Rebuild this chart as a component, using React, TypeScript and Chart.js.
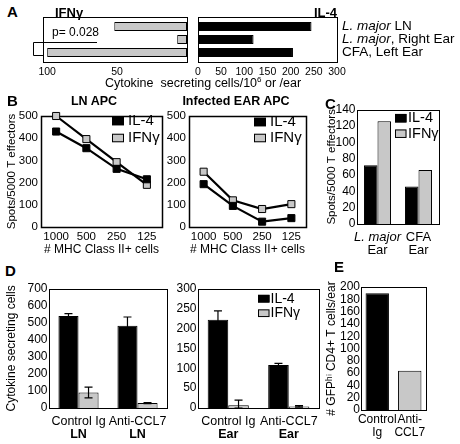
import React, { useEffect, useRef } from "react";
import { Chart, registerables } from "chart.js";

Chart.register(...registerables);

const FONT = "'Liberation Sans', Arial, Helvetica, sans-serif";
Chart.defaults.font.family = FONT;
Chart.defaults.color = "#000";

const BLACK = "#000000";
const GREY = "#c8c8c8";

// ---------- Panel A ----------
const aCategories = ["L. major LN", "L. major, Right Ear", "CFA, Left Ear"];
const aIFNg = [52, 7, 100];
const aIL4 = [245, 120, 205];
const aLeftTicks = [50, 100];
const aPValue = "p= 0.028";

// ---------- Panel B ----------
const bDoses = ["1000", "500", "250", "125"];
const bLnIL4 = [430, 355, 262, 215];
const bLnIFNg = [500, 396, 292, 190];
const bEarIL4 = [193, 95, 24, 40];
const bEarIFNg = [249, 120, 81, 103];

// ---------- Panel C ----------
const cCategories = [["L. major", "Ear"], ["CFA", "Ear"]];
const cIL4 = [72, 46];
const cIFNg = [126, 66];

// ---------- Panel D ----------
const dLnCategories = [["Control Ig", "LN"], ["Anti-CCL7", "LN"]];
const dLnIL4 = [540, 482];
const dLnIL4Err = [14, 52];
const dLnIFNg = [91, 29];
const dLnIFNgErr = [32, 3];
const dEarCategories = [["Control Ig", "Ear"], ["Anti-CCL7", "Ear"]];
const dEarIL4 = [222, 108];
const dEarIL4Err = [22, 4];
const dEarIFNg = [7, 4];
const dEarIFNgErr = [13, 2];

// ---------- Panel E ----------
const eCategories = [["Control", "Ig"], ["Anti-", "CCL7"]];
const eValues = [190, 64];

// ---------- helpers ----------
type Seg = { text: string; italic?: boolean; bold?: boolean };

function segments(text: string, bold: boolean): Seg[] {
  const key = "L. major";
  if (text.startsWith(key)) return [{ text: key, italic: true, bold }, { text: text.slice(key.length), bold }];
  return [{ text, bold }];
}
function fontOf(s: Seg, size: number) {
  return `${s.italic ? "italic " : ""}${s.bold ? "bold " : ""}${size}px ${FONT}`;
}
function drawSegs(ctx: any, segs: Seg[], x: number, y: number, size: number, align: "left" | "center") {
  let w = 0;
  segs.forEach((s) => { ctx.font = fontOf(s, size); w += ctx.measureText(s.text).width; });
  let cx = align === "center" ? x - w / 2 : x;
  ctx.textAlign = "left";
  ctx.textBaseline = "middle";
  ctx.fillStyle = BLACK;
  segs.forEach((s) => { ctx.font = fontOf(s, size); ctx.fillText(s.text, cx, y); cx += ctx.measureText(s.text).width; });
}

const framePlugin = (dy: number, lw: number) => ({
  id: "frame",
  beforeDatasetsDraw(chart: any) {
    const { ctx, chartArea: a } = chart;
    ctx.save();
    ctx.strokeStyle = BLACK;
    ctx.lineWidth = lw;
    ctx.strokeRect(Math.round(a.left) + 0.5, Math.round(a.top - dy) + 0.5, Math.round(a.right - a.left), Math.round(a.bottom - a.top + 2 * dy));
    ctx.restore();
  },
});

const legendPlugin = (o: { dx: number; dy: number; rowH: number; boxW: number; boxH: number; gap: number; size: number }) => ({
  id: "inlegend",
  afterDraw(chart: any) {
    const { ctx, chartArea: a } = chart;
    ctx.save();
    chart.data.datasets.forEach((ds: any, i: number) => {
      const x = a.left + o.dx;
      const y = a.top + o.dy + i * o.rowH;
      ctx.fillStyle = ds.pointBackgroundColor ?? ds.backgroundColor;
      ctx.fillRect(x, y - o.boxH / 2, o.boxW, o.boxH);
      ctx.strokeStyle = BLACK;
      ctx.lineWidth = 1;
      ctx.strokeRect(x + 0.5, y - o.boxH / 2 + 0.5, o.boxW - 1, o.boxH - 1);
      ctx.fillStyle = BLACK;
      ctx.font = `${o.size}px ${FONT}`;
      ctx.textAlign = "left";
      ctx.textBaseline = "middle";
      ctx.fillText(ds.label, x + o.boxW + o.gap, y);
    });
    ctx.restore();
  },
});

const errorPlugin = {
  id: "errbars",
  afterDatasetsDraw(chart: any) {
    const { ctx } = chart;
    const ys = chart.scales.y;
    ctx.save();
    ctx.strokeStyle = BLACK;
    ctx.lineWidth = 1.2;
    chart.data.datasets.forEach((ds: any, di: number) => {
      const errs = ds.errors as number[] | undefined;
      if (!errs) return;
      chart.getDatasetMeta(di).data.forEach((bar: any, i: number) => {
        const v = ds.data[i];
        const e = errs[i];
        const yt = ys.getPixelForValue(v + e);
        const yb = ys.getPixelForValue(Math.max(0, v - e));
        const x = bar.x;
        ctx.beginPath();
        ctx.moveTo(x, yt); ctx.lineTo(x, yb);
        ctx.moveTo(x - 4, yt); ctx.lineTo(x + 4, yt);
        ctx.moveTo(x - 4, yb); ctx.lineTo(x + 4, yb);
        ctx.stroke();
      });
    });
    ctx.restore();
  },
};

const richXLabels = (offsets: number[], size: number, boldLines: number[]) => ({
  id: "richX",
  afterDraw(chart: any) {
    const { ctx, chartArea } = chart;
    const xs = chart.scales.x;
    ctx.save();
    (chart.data.labels as string[][]).forEach((lines, i) => {
      const cx = xs.getPixelForValue(i);
      lines.forEach((line, k) => drawSegs(ctx, segments(line, boldLines.includes(k)), cx, chartArea.bottom + offsets[k], size, "center"));
    });
    ctx.restore();
  },
});

const richYLabels = (dx: number, size: number) => ({
  id: "richY",
  afterDraw(chart: any) {
    const { ctx, chartArea } = chart;
    const ys = chart.scales.y;
    ctx.save();
    (chart.data.labels as string[]).forEach((t, i) => {
      drawSegs(ctx, segments(t, false), chartArea.right + dx, ys.getPixelForValue(i), size, "left");
    });
    ctx.restore();
  },
});

const bracketPlugin = {
  id: "pbracket",
  afterDraw(chart: any) {
    const { ctx, chartArea: a } = chart;
    const ys = chart.scales.y;
    const y1 = ys.getPixelForValue(1) + 2;
    const y2 = ys.getPixelForValue(2) + 2;
    ctx.save();
    ctx.strokeStyle = BLACK;
    ctx.lineWidth = 1;
    ctx.beginPath();
    ctx.moveTo(a.left + 54, Math.round(y1) + 0.5);
    ctx.lineTo(a.left - 10 + 0.5, Math.round(y1) + 0.5);
    ctx.lineTo(a.left - 10 + 0.5, Math.round(y2) + 0.5);
    ctx.lineTo(a.left, Math.round(y2) + 0.5);
    ctx.stroke();
    ctx.fillStyle = BLACK;
    ctx.font = `12px ${FONT}`;
    ctx.textAlign = "left";
    ctx.textBaseline = "middle";
    ctx.fillText(aPValue, a.left + 9, ys.getPixelForValue(1) - 6.5);
    ctx.restore();
  },
};

const noGrid = { grid: { display: false, drawTicks: false, tickLength: 0 }, border: { display: false } };
const flat = { autoSkip: false, maxRotation: 0, minRotation: 0 };
const basePlugins = { legend: { display: false }, tooltip: { enabled: false } };

const lineDs = (label: string, data: number[], fill: string) => ({
  label, data, borderColor: BLACK, borderWidth: 2.2, pointStyle: "rect", pointRadius: 5,
  pointBackgroundColor: fill, pointBorderColor: BLACK, pointBorderWidth: 1, clip: false,
});

// ---------- configs ----------
const aLeftConfig = (): any => ({
  type: "bar",
  data: { labels: aCategories, datasets: [{ label: "IFNγ", data: aIFNg, backgroundColor: GREY, borderColor: BLACK, borderWidth: 1, borderSkipped: false, barPercentage: 0.69, categoryPercentage: 1 }] },
  options: {
    indexAxis: "y", responsive: false, animation: false,
    layout: { padding: { left: 17, right: 3, top: 10, bottom: 0 } },
    plugins: basePlugins,
    scales: {
      x: { type: "linear", reverse: true, min: 0, max: 103, ...noGrid,
        afterBuildTicks: (s: any) => { s.ticks = aLeftTicks.map((v) => ({ value: v })); },
        ticks: { ...flat, font: { size: 10.5 }, padding: 7 }, afterFit: (s: any) => { s.height = 23; } },
      y: { display: false },
    },
  },
  plugins: [framePlugin(3, 1), bracketPlugin],
});

const aRightConfig = (): any => ({
  type: "bar",
  data: { labels: aCategories, datasets: [{ label: "IL-4", data: aIL4, backgroundColor: BLACK, borderColor: BLACK, borderWidth: 1, barPercentage: 0.69, categoryPercentage: 1 }] },
  options: {
    indexAxis: "y", responsive: false, animation: false,
    layout: { padding: { left: 4, right: 123, top: 10, bottom: 0 } },
    plugins: basePlugins,
    scales: {
      x: { type: "linear", min: 0, max: 300, ...noGrid, ticks: { ...flat, stepSize: 50, font: { size: 10.5 }, padding: 7 }, afterFit: (s: any) => { s.height = 23; } },
      y: { display: false },
    },
  },
  plugins: [framePlugin(3, 1), richYLabels(5, 13.5)],
});

const bConfig = (il4: number[], ifng: number[], yWidth: number, rightPad: number, showYTitle: boolean, leg: any): any => ({
  type: "line",
  data: { labels: bDoses, datasets: [lineDs("IL-4", il4, BLACK), lineDs("IFNγ", ifng, GREY)] },
  options: {
    responsive: false, animation: false,
    layout: { padding: { left: 0, right: rightPad, top: 10, bottom: 0 } },
    plugins: basePlugins,
    scales: {
      x: { offset: true, ...noGrid, ticks: { ...flat, font: { size: 11.5 }, padding: 3 },
        title: { display: true, text: "# MHC Class II+ cells", font: { size: 12 }, padding: { top: 0, bottom: 1 } },
        afterFit: (s: any) => { s.height = 31; } },
      y: { min: 0, max: 500, ...noGrid,
        ticks: { ...flat, stepSize: 100, font: { size: 11.5 }, padding: 3 },
        title: { display: showYTitle, text: "Spots/5000 T effectors", font: { size: 11.5 }, padding: { top: 5, bottom: 0 } },
        afterFit: (s: any) => { s.width = yWidth; } },
    },
  },
  plugins: [framePlugin(0, 1.5), legendPlugin(leg)],
});

const cConfig = (): any => ({
  type: "bar",
  data: {
    labels: cCategories,
    datasets: [
      { label: "IL-4", data: cIL4, backgroundColor: BLACK, borderColor: BLACK, borderWidth: 1, barPercentage: 1, categoryPercentage: 0.66 },
      { label: "IFNγ", data: cIFNg, backgroundColor: GREY, borderColor: BLACK, borderWidth: 1, barPercentage: 1, categoryPercentage: 0.66 },
    ],
  },
  options: {
    responsive: false, animation: false,
    layout: { padding: { left: 0, right: 21, top: 8, bottom: 0 } },
    plugins: basePlugins,
    scales: {
      x: { ...noGrid, ticks: { display: false }, afterFit: (s: any) => { s.height = 32; } },
      y: { min: 0, max: 140, ...noGrid, ticks: { ...flat, stepSize: 20, font: { size: 12 }, padding: 1.5 },
        title: { display: true, text: "Spots/5000 T effectors", font: { size: 11.5 }, padding: { top: 2.8, bottom: 0 } },
        afterFit: (s: any) => { s.width = 35; } },
    },
  },
  plugins: [framePlugin(0, 1), legendPlugin({ dx: 38, dy: 8.5, rowH: 15.5, boxW: 11.5, boxH: 8.5, gap: 1.5, size: 14.5 }), richXLabels([13.7, 26], 13, [])],
});

const dConfig = (labels: string[][], il4: number[], il4Err: number[], ifng: number[], ifngErr: number[], max: number, step: number, yWidth: number, yTitle: boolean, leg: any): any => ({
  type: "bar",
  data: {
    labels,
    datasets: [
      { label: "IL-4", data: il4, errors: il4Err, backgroundColor: BLACK, borderColor: BLACK, borderWidth: 1, barPercentage: 1, categoryPercentage: 0.68 },
      { label: "IFNγ", data: ifng, errors: ifngErr, backgroundColor: GREY, borderColor: BLACK, borderWidth: 1, barPercentage: 1, categoryPercentage: 0.68 },
    ],
  },
  options: {
    responsive: false, animation: false,
    layout: { padding: { left: 0, right: 5, top: 8, bottom: 0 } },
    plugins: basePlugins,
    scales: {
      x: { ...noGrid, ticks: { display: false }, afterFit: (s: any) => { s.height = 36; } },
      y: { min: 0, max, ...noGrid, ticks: { ...flat, stepSize: step, font: { size: 12 }, padding: 1.5 },
        title: { display: yTitle, text: "Cytokine secreting cells", font: { size: 12 }, padding: { top: 4.5, bottom: 0 } },
        afterFit: (s: any) => { s.width = yWidth; } },
    },
  },
  plugins: [framePlugin(0, 1), errorPlugin, richXLabels([13.7, 27], 12.5, [1]), ...(leg ? [legendPlugin(leg)] : [])],
});

const eConfig = (): any => ({
  type: "bar",
  data: { labels: eCategories, datasets: [{ label: "GFPhi CD4+ T cells", data: eValues, backgroundColor: [BLACK, GREY], borderColor: BLACK, borderWidth: 1, barPercentage: 0.72, categoryPercentage: 1 }] },
  options: {
    responsive: false, animation: false,
    layout: { padding: { left: 0, right: 34, top: 8, bottom: 0 } },
    plugins: basePlugins,
    scales: {
      x: { ...noGrid, ticks: { ...flat, font: { size: 12, lineHeight: 1.1 }, padding: 3 }, afterFit: (s: any) => { s.height = 34; } },
      y: { min: 0, max: 200, ...noGrid, ticks: { ...flat, stepSize: 20, font: { size: 12, lineHeight: 1 }, padding: 1 },
        title: { display: true, text: "# GFPʰⁱ CD4+ T cells/ear", font: { size: 12 }, padding: { top: 2.5, bottom: 0 } },
        afterFit: (s: any) => { s.width = 39; } },
    },
  },
  plugins: [framePlugin(0, 1)],
});

// ---------- components ----------
function ChartBox({ left, top, width, height, make }: { left: number; top: number; width: number; height: number; make: () => any }) {
  const ref = useRef<HTMLCanvasElement>(null);
  useEffect(() => {
    const chart = new Chart(ref.current as HTMLCanvasElement, make());
    return () => chart.destroy();
  }, []);
  return <canvas ref={ref} width={width} height={height} style={{ position: "absolute", left, top, width, height }} />;
}

function Txt({ x, y, size, bold, align = "left", children }: { x: number; y: number; size: number; bold?: boolean; align?: "left" | "center" | "right"; children: any }) {
  const tx = align === "center" ? "-50%" : align === "right" ? "-100%" : "0";
  return (
    <div style={{ position: "absolute", left: x, top: y, transform: `translate(${tx}, -50%)`, fontFamily: FONT, fontSize: size, fontWeight: bold ? "bold" : "normal", lineHeight: 1, whiteSpace: "pre", color: "#000" }}>
      {children}
    </div>
  );
}

const aAxisTitle = ["Cytokine  secreting cells/10", "6", " or /ear"];

export default function App() {
  return (
    <div style={{ position: "absolute", left: 0, top: 0, width: 460, height: 444, background: "#fff", overflow: "hidden" }}>
      <ChartBox left={26} top={10} width={164} height={72} make={aLeftConfig} />
      <ChartBox left={188} top={10} width={272} height={72} make={aRightConfig} />
      <ChartBox left={0} top={106} width={168} height={152}
        make={() => bConfig(bLnIL4, bLnIFNg, 41, 6, true, { dx: 71, dy: 5, rowH: 17, boxW: 12, boxH: 8.5, gap: 4, size: 15 })} />
      <ChartBox left={160} top={106} width={152} height={152}
        make={() => bConfig(bEarIL4, bEarIFNg, 29, 5, false, { dx: 65, dy: 6, rowH: 16, boxW: 12, boxH: 8.5, gap: 4, size: 15 })} />
      <ChartBox left={322} top={101} width={138} height={155} make={cConfig} />
      <ChartBox left={0} top={280} width={172} height={164}
        make={() => dConfig(dLnCategories, dLnIL4, dLnIL4Err, dLnIFNg, dLnIFNgErr, 700, 100, 49, true, null)} />
      <ChartBox left={172} top={280} width={152} height={164}
        make={() => dConfig(dEarCategories, dEarIL4, dEarIL4Err, dEarIFNg, dEarIFNgErr, 300, 50, 26, false, { dx: 60, dy: 10, rowH: 14.5, boxW: 11.5, boxH: 7.7, gap: 1, size: 14 })} />
      <ChartBox left={322} top={279} width={138} height={165} make={eConfig} />

      <Txt x={7} y={11} size={15} bold>A</Txt>
      <Txt x={55} y={11.5} size={13} bold>IFNγ</Txt>
      <Txt x={337} y={12} size={13} bold align="right">IL-4</Txt>
      <Txt x={203} y={83} size={12.5} align="center">
        {aAxisTitle[0]}<sup style={{ fontSize: 8, verticalAlign: "5px" }}>{aAxisTitle[1]}</sup>{aAxisTitle[2]}
      </Txt>
      <Txt x={7} y={100} size={15} bold>B</Txt>
      <Txt x={94} y={101} size={12.5} bold align="center">LN APC</Txt>
      <Txt x={236} y={101} size={12.5} bold align="center">Infected EAR APC</Txt>
      <Txt x={325} y={103} size={15} bold>C</Txt>
      <Txt x={5} y={270} size={15} bold>D</Txt>
      <Txt x={334} y={266} size={15} bold>E</Txt>
    </div>
  );
}
